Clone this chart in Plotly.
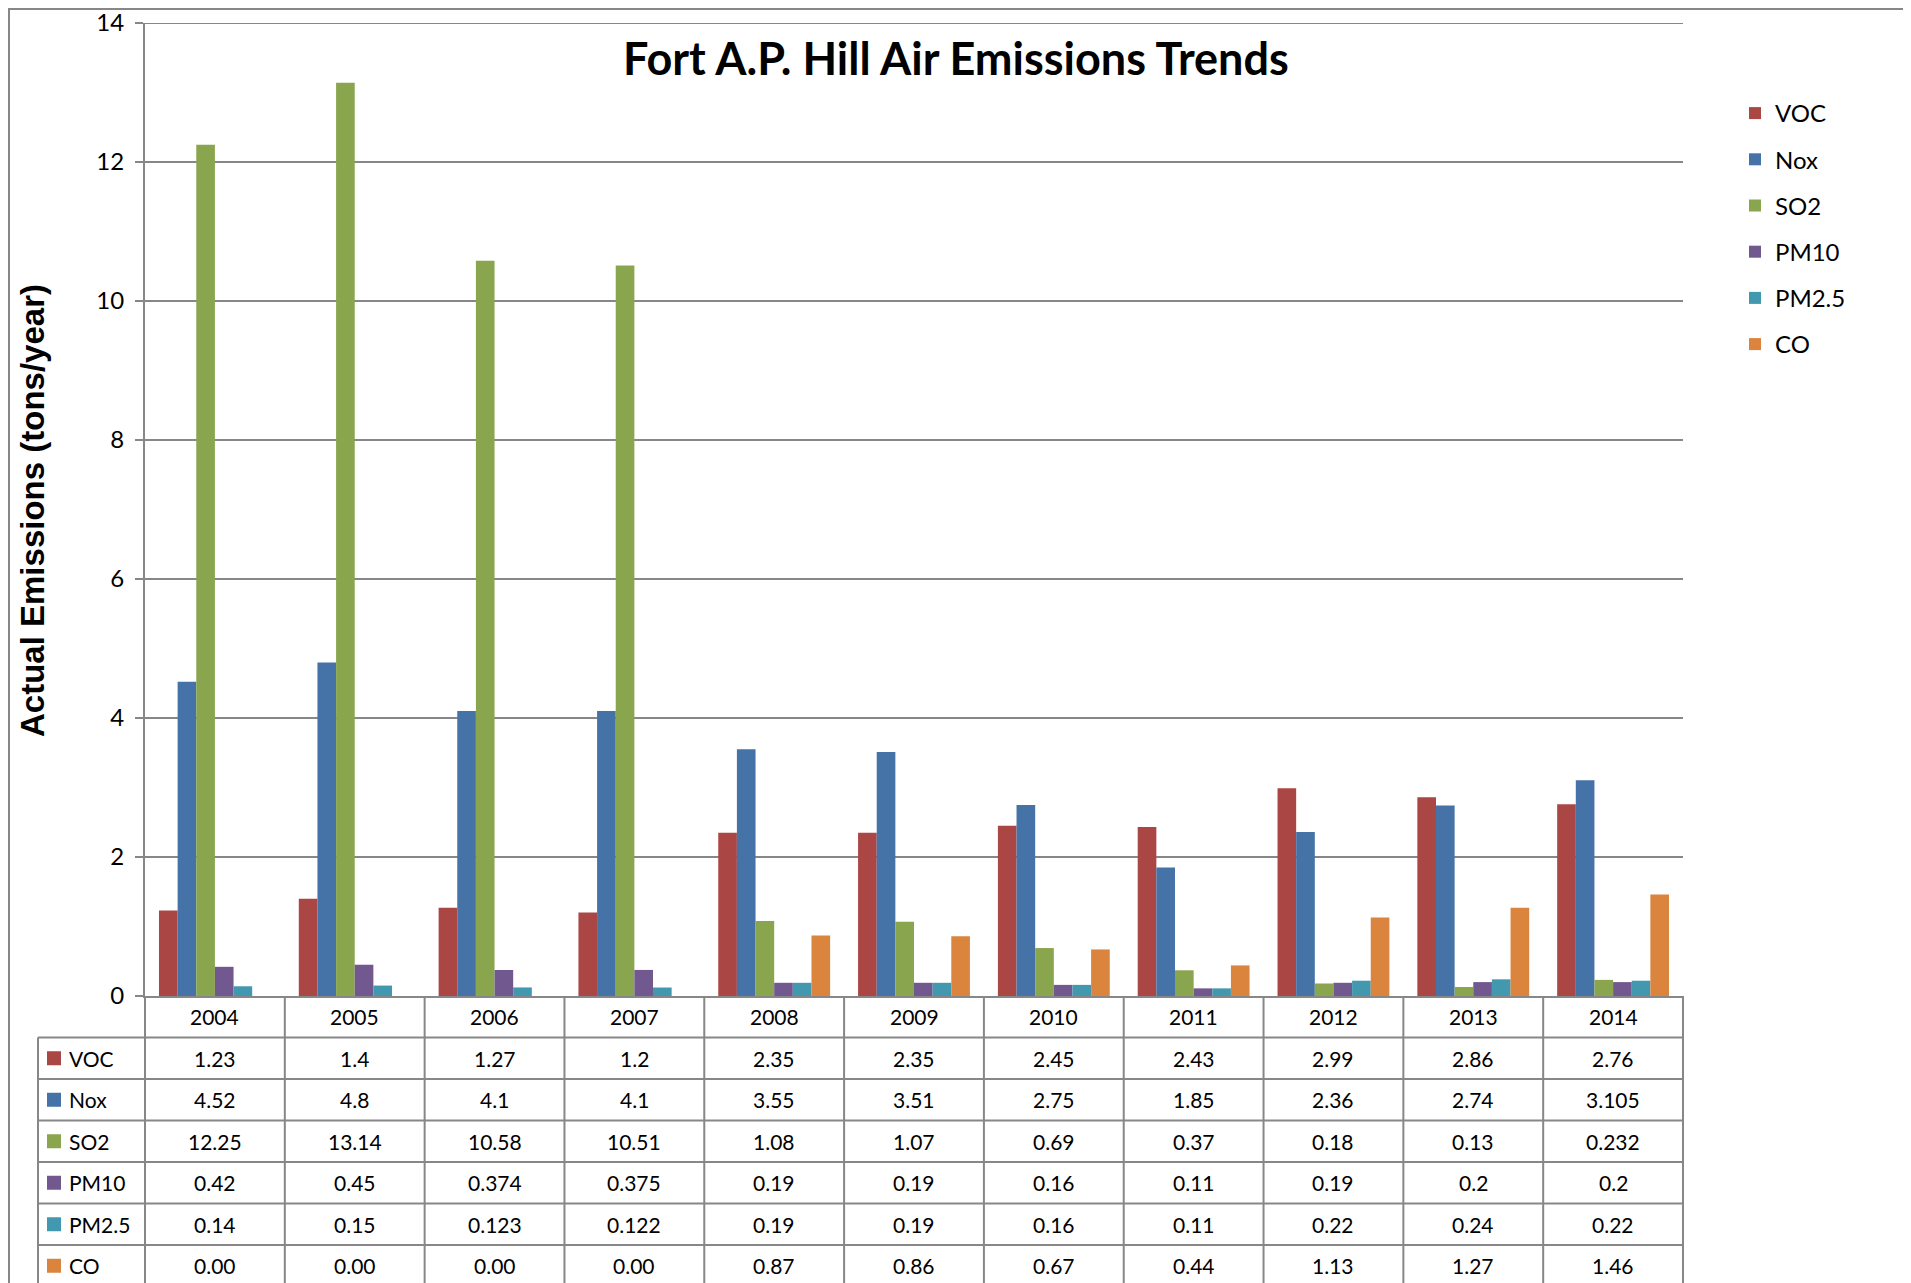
import plotly.graph_objects as go

years = ["2004", "2005", "2006", "2007", "2008", "2009", "2010", "2011", "2012", "2013", "2014"]
series_names = ["VOC", "Nox", "SO2", "PM10", "PM2.5", "CO"]
voc = [1.23, 1.4, 1.27, 1.2, 2.35, 2.35, 2.45, 2.43, 2.99, 2.86, 2.76]
nox = [4.52, 4.8, 4.1, 4.1, 3.55, 3.51, 2.75, 1.85, 2.36, 2.74, 3.105]
so2 = [12.25, 13.14, 10.58, 10.51, 1.08, 1.07, 0.69, 0.37, 0.18, 0.13, 0.232]
pm10 = [0.42, 0.45, 0.374, 0.375, 0.19, 0.19, 0.16, 0.11, 0.19, 0.2, 0.2]
pm25 = [0.14, 0.15, 0.123, 0.122, 0.19, 0.19, 0.16, 0.11, 0.22, 0.24, 0.22]
co = [0, 0, 0, 0, 0.87, 0.86, 0.67, 0.44, 1.13, 1.27, 1.46]
series_values = [voc, nox, so2, pm10, pm25, co]
colors = ["#AA4643", "#4572A7", "#89A54E", "#71588F", "#4198AF", "#DB843D"]
y_ticks = [0, 2, 4, 6, 8, 10, 12, 14]

OFF = 8  # page body margin
W, H = 1911 - OFF, 1283 - OFF
# plot area in reference pixel coordinates
RL, RR, RT, RB = 145, 1683, 23, 996
L, R, T, B = RL - OFF, RR - OFF, RT - OFF, RB - OFF
PW, PH = R - L, B - T
GRID = "#878787"
FONT = "Lato"


def px(X):
    """reference pixel x -> paper"""
    return (X - RL) / PW


def py(Y):
    """reference pixel y -> paper"""
    return (RB - Y) / PH


def fmt(name, v):
    return f"{v:.2f}" if name == "CO" else f"{v:g}"


fig = go.Figure()
for i, (name, vals) in enumerate(zip(series_names, series_values)):
    fig.add_trace(go.Bar(x=years, y=vals, name=name, marker_color=colors[i],
                         marker_line_width=0, legendgroup=name))

shapes = []
annotations = []

# outer chart border
shapes.append(dict(type="rect", xref="paper", yref="paper", x0=px(9), x1=px(1907),
                   y0=py(1300), y1=py(9), line=dict(color=GRID, width=2)))
# top gridline
shapes.append(dict(type="line", xref="paper", yref="y", x0=0, x1=1, y0=max(y_ticks),
                   y1=max(y_ticks), line=dict(color=GRID, width=2)))

row_h = 41.5
n = len(years)
top_rows = RB + row_h
bottom = RB + row_h * (len(series_names) + 1)
for i in range(n + 1):
    shapes.append(dict(type="line", xref="paper", yref="paper", x0=i / n, x1=i / n,
                       y0=py(RB), y1=py(bottom), line=dict(color=GRID, width=2)))
shapes.append(dict(type="line", xref="paper", yref="paper", x0=px(38), x1=px(38),
                   y0=py(top_rows), y1=py(bottom), line=dict(color=GRID, width=2)))
for r in range(len(series_names) + 1):
    yy = top_rows + r * row_h
    shapes.append(dict(type="line", xref="paper", yref="paper", x0=px(38), x1=1,
                       y0=py(yy), y1=py(yy), line=dict(color=GRID, width=2)))

cell_font = dict(family=FONT, size=21, color="black")
for i, yr in enumerate(years):
    annotations.append(dict(x=(i + 0.5) / n, xref="paper", y=py(RB + row_h / 2), yref="paper",
                            text=yr, showarrow=False, xanchor="center", yanchor="middle",
                            font=cell_font))

for r, (name, vals) in enumerate(zip(series_names, series_values)):
    yc = top_rows + r * row_h + row_h / 2
    shapes.append(dict(type="rect", xref="paper", yref="paper", x0=px(47), x1=px(61),
                       y0=py(yc + 7), y1=py(yc - 7), fillcolor=colors[r], line=dict(width=0)))
    annotations.append(dict(x=px(67), xref="paper", y=py(yc), yref="paper", text=name,
                            showarrow=False, xanchor="left", yanchor="middle", font=cell_font))
    for i, v in enumerate(vals):
        annotations.append(dict(x=(i + 0.5) / n, xref="paper", y=py(yc), yref="paper",
                                text=fmt(name, v), showarrow=False, xanchor="center",
                                yanchor="middle", font=cell_font))

annotations.append(dict(x=px(956), xref="paper", y=py(58), yref="paper",
                        text="<b>Fort A.P. Hill Air Emissions Trends</b>", showarrow=False,
                        xanchor="center", yanchor="middle",
                        font=dict(family=FONT, size=45, color="black")))
annotations.append(dict(x=px(32), xref="paper", y=py(511), yref="paper",
                        text="<b>Actual Emissions (tons/year)</b>", showarrow=False,
                        textangle=-90, xanchor="center", yanchor="middle",
                        font=dict(family="Liberation Sans", size=33, color="black")))

fig.update_layout(
    width=W, height=H,
    margin=dict(l=L, r=W - R, t=T, b=H - B, pad=0, autoexpand=False),
    paper_bgcolor="white", plot_bgcolor="white",
    barmode="group", bargap=0.2, bargroupgap=0,
    showlegend=True,
    legend=dict(x=px(1735), y=py(91), xanchor="left", yanchor="top",
                font=dict(family=FONT, size=24, color="black"),
                tracegroupgap=12, bgcolor="rgba(0,0,0,0)"),
    shapes=shapes, annotations=annotations,
    font=dict(family=FONT),
)
fig.update_xaxes(showticklabels=False, showline=True, linecolor=GRID, linewidth=2,
                 ticks="", showgrid=False, type="category", range=[-0.5, n - 0.5],
                 automargin=False)
fig.update_yaxes(range=[0, 14], tickvals=y_ticks, showline=True, linecolor=GRID, linewidth=2,
                 ticks="outside", ticklen=8, tickcolor=GRID, tickwidth=2,
                 showgrid=True, gridcolor=GRID, gridwidth=2, zeroline=False,
                 tickfont=dict(family=FONT, size=24, color="black"), ticklabelstandoff=6,
                 ticklabeloverflow="allow", automargin=False)

fig.write_html("out.html")
